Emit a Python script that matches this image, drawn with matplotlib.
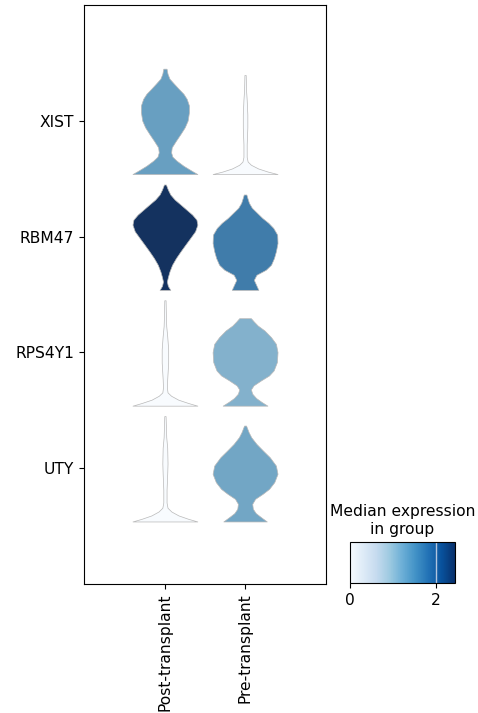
import numpy as np
import matplotlib as mpl
mpl.use('Agg')
import matplotlib.pyplot as plt
import seaborn as sns

genes = ['XIST', 'RBM47', 'RPS4Y1', 'UTY']
groups = ['Post-transplant', 'Pre-transplant']

# median expression per gene (rows) and group (columns)
medians = [[1.35, 0.0],
           [2.44, 1.70],
           [0.0, 1.15],
           [0.0, 1.27]]

# height of each violin relative to the tallest one in its row
tops = [[1.00, 0.94],
        [1.00, 0.905],
        [1.00, 0.83],
        [1.00, 0.91]]

# violin outlines: (fraction of violin height, relative density)
xist_post = [(0.000, 1.00), (0.032, 0.82), (0.079, 0.57), (0.127, 0.36), (0.165, 0.23),
             (0.206, 0.19), (0.254, 0.21), (0.317, 0.34), (0.381, 0.48), (0.444, 0.61),
             (0.508, 0.70), (0.587, 0.74), (0.651, 0.74), (0.714, 0.67), (0.762, 0.57),
             (0.810, 0.42), (0.857, 0.28), (0.905, 0.14), (0.952, 0.08), (1.000, 0.05)]
xist_pre = [(0.000, 1.00), (0.025, 0.70), (0.057, 0.40), (0.094, 0.18), (0.126, 0.08),
            (0.173, 0.05), (0.300, 0.05), (0.470, 0.07), (0.600, 0.07), (0.750, 0.05),
            (0.850, 0.03), (1.000, 0.02)]
rbm47_post = [(0.000, 0.165), (0.038, 0.09), (0.079, 0.06), (0.121, 0.09), (0.175, 0.14),
              (0.238, 0.22), (0.302, 0.34), (0.365, 0.48), (0.429, 0.63), (0.492, 0.78),
              (0.556, 0.93), (0.619, 1.00), (0.667, 0.97), (0.714, 0.84), (0.762, 0.66),
              (0.810, 0.48), (0.857, 0.30), (0.905, 0.165), (0.952, 0.09), (1.000, 0.03)]
rbm47_pre = [(0.000, 0.41), (0.053, 0.34), (0.105, 0.27), (0.158, 0.35), (0.211, 0.64),
             (0.263, 0.80), (0.333, 0.89), (0.404, 0.95), (0.491, 1.00), (0.579, 0.99),
             (0.649, 0.87), (0.702, 0.72), (0.754, 0.53), (0.807, 0.37), (0.860, 0.21),
             (0.912, 0.12), (0.965, 0.07), (1.000, 0.04)]
rps4y1_post = [(0.000, 1.00), (0.025, 0.72), (0.057, 0.41), (0.094, 0.19), (0.126, 0.08),
               (0.173, 0.06), (0.252, 0.07), (0.409, 0.10), (0.535, 0.10), (0.660, 0.07),
               (0.755, 0.04), (0.849, 0.03), (1.000, 0.02)]
rps4y1_pre = [(0.000, 0.69), (0.042, 0.51), (0.087, 0.34), (0.137, 0.22), (0.186, 0.18),
              (0.232, 0.26), (0.289, 0.49), (0.346, 0.74), (0.403, 0.88), (0.498, 0.98),
              (0.612, 1.00), (0.707, 0.95), (0.783, 0.80), (0.859, 0.60), (0.916, 0.39),
              (0.962, 0.27), (1.000, 0.18)]
uty_post = [(0.000, 1.00), (0.025, 0.72), (0.057, 0.42), (0.094, 0.20), (0.130, 0.08),
            (0.180, 0.05), (0.300, 0.05), (0.450, 0.07), (0.550, 0.08), (0.700, 0.07),
            (0.800, 0.04), (0.900, 0.03), (1.000, 0.02)]
uty_pre = [(0.000, 0.67), (0.045, 0.49), (0.087, 0.33), (0.132, 0.24), (0.184, 0.22),
           (0.236, 0.31), (0.288, 0.54), (0.340, 0.74), (0.410, 0.90), (0.497, 1.00),
           (0.583, 0.95), (0.670, 0.76), (0.740, 0.55), (0.809, 0.35), (0.878, 0.19),
           (0.931, 0.11), (0.983, 0.05), (1.000, 0.03)]

profiles = [[xist_post, xist_pre],
            [rbm47_post, rbm47_pre],
            [rps4y1_post, rps4y1_pre],
            [uty_post, uty_pre]]

vmax = 2.44
cmap = plt.get_cmap('Blues')
norm = mpl.colors.Normalize(vmin=0, vmax=vmax)

fig = plt.figure(figsize=(4.78, 7.13), dpi=100)
ax = fig.add_axes([84 / 478, 1 - 584 / 713, 242 / 478, 579 / 713])

row_height = 0.91
n_rows = len(genes)
for i, gene in enumerate(genes):
    base = (n_rows - i) - 0.46
    stats = []
    for j in range(len(groups)):
        prof = np.array(profiles[i][j])
        coords = base + prof[:, 0] * tops[i][j] * row_height
        stats.append({'coords': coords, 'vals': prof[:, 1],
                      'mean': coords.mean(), 'median': coords.mean(),
                      'min': coords.min(), 'max': coords.max()})
    parts = ax.violin(stats, positions=range(len(groups)), widths=0.81,
                      showmeans=False, showextrema=False, showmedians=False)
    for j, body in enumerate(parts['bodies']):
        color = sns.desaturate(cmap(norm(medians[i][j])), 0.75)
        body.set_facecolor(color)
        body.set_edgecolor('#b8b8b8')
        body.set_linewidth(0.5)
        body.set_alpha(1)

ax.set_xlim(-1.01, 2.01)
ax.set_ylim(0, 5)
ax.set_xticks(range(len(groups)))
ax.set_xticklabels(groups, rotation=90, fontsize=11.2)
ax.set_yticks([n_rows - i for i in range(n_rows)])
ax.set_yticklabels(genes, fontsize=11.2)

# colour scale for the medians
cax = fig.add_axes([350 / 478, 1 - 583 / 713, 105 / 478, 41 / 713])
cb = mpl.colorbar.ColorbarBase(cax, cmap=cmap, norm=norm, orientation='horizontal')
cb.set_ticks([0, 2])
cb.ax.tick_params(labelsize=11.2)
cax.axvline(2, color='#b0c4de', lw=1)
cax.set_title('Median expression\nin group', fontsize=11.2)

fig.savefig('out.png', dpi=100)
